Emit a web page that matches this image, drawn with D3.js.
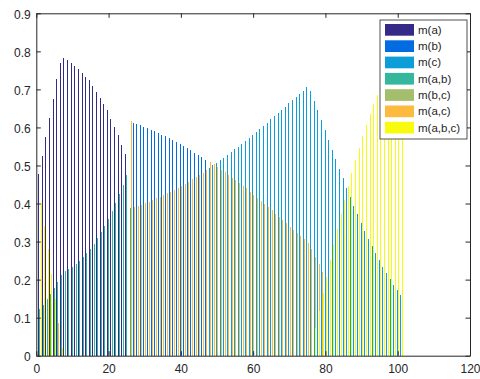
<!DOCTYPE html>
<html>
<head>
<meta charset="utf-8">
<script src="https://cdn.jsdelivr.net/npm/d3@7"></script>
<style>
  body { margin: 0; background: #fff; }
  svg { display: block; font-family: "Liberation Sans", Arial, sans-serif; }
  .tick text { fill: #262626; }
  .tick line, .domain { stroke: #262626; }
</style>
</head>
<body>
<div id="chart"></div>
<script>
// categories (x = 1..101), one group of 7 bars per category
var categories = d3.range(1, 102);
var seriesNames = ["m(a)", "m(b)", "m(c)", "m(a,b)", "m(b,c)", "m(a,c)", "m(a,b,c)"];
var seriesColors = ["#352a87", "#036ce0", "#0d9dd8", "#35b79e", "#a5be6b", "#fcbb3e", "#f9fb0e"];
var xTicks = [0, 20, 40, 60, 80, 100, 120];
var yTicks = [0, 0.1, 0.2, 0.3, 0.4, 0.5, 0.6, 0.7, 0.8, 0.9];

// each series: list of [first x, values...] runs, anything else is 0
var mA = [[1, [0.478, 0.526, 0.576, 0.626, 0.676, 0.726, 0.770, 0.783, 0.776, 0.769, 0.762, 0.754, 0.744,
  0.733, 0.724, 0.710, 0.694, 0.677, 0.661, 0.645, 0.623, 0.602, 0.580, 0.554, 0.531]]];
var mB = [[27, [0.612, 0.609, 0.607, 0.602, 0.599, 0.594, 0.590, 0.586, 0.581, 0.578, 0.573, 0.568, 0.562,
  0.557, 0.552, 0.546, 0.540, 0.533, 0.528, 0.523, 0.515]]];
var mC = [[48, [0.494, 0.502, 0.507, 0.515, 0.520, 0.528, 0.536, 0.544, 0.549, 0.557, 0.565, 0.573, 0.581,
  0.589, 0.597, 0.605, 0.612, 0.623, 0.631, 0.639, 0.647, 0.655, 0.665, 0.673, 0.681, 0.689, 0.697, 0.707,
  0.697, 0.670, 0.647, 0.620, 0.594, 0.568, 0.541, 0.518, 0.491, 0.468, 0.440, 0.418, 0.394, 0.373, 0.348,
  0.328, 0.307, 0.289, 0.270, 0.252, 0.233, 0.218, 0.202, 0.186, 0.173, 0.160]]];
var mAB = [[1, [0.122, 0.133, 0.149, 0.161, 0.178, 0.194, 0.211, 0.223, 0.227, 0.233, 0.241, 0.249, 0.259,
  0.269, 0.281, 0.294, 0.309, 0.324, 0.340, 0.360, 0.380, 0.401, 0.425, 0.449, 0.475, 0.388]]];
var mBC = [];
var mAC = [[6, [0.085]],
  [26, [0.618, 0.391, 0.393, 0.396, 0.401, 0.404, 0.410, 0.415, 0.418, 0.423, 0.428, 0.431, 0.436, 0.441,
  0.447, 0.452, 0.457, 0.465, 0.470, 0.476, 0.481, 0.489, 0.510, 0.504, 0.497, 0.489, 0.483, 0.476, 0.468,
  0.462, 0.454, 0.447, 0.440, 0.430, 0.422, 0.415, 0.407, 0.399, 0.391, 0.383, 0.373, 0.365, 0.357, 0.349,
  0.339, 0.331, 0.323, 0.315, 0.307, 0.296, 0.281, 0.260, 0.241, 0.220, 0.202]],
  [83, [0.154]], [85, [0.128]], [88, [0.094]], [90, [0.075, 0.068]], [93, [0.054]],
  [96, [0.039]], [98, [0.027]], [101, [0.019]]];
var mABC = [[1, [0.401, 0.342, 0.281, 0.215, 0.148]], [7, [0.019]],
  [77, [0.073, 0.118, 0.164, 0.208, 0.252, 0.294, 0.333, 0.373, 0.410, 0.446, 0.481, 0.515, 0.547, 0.578,
  0.607, 0.636, 0.662, 0.686, 0.708, 0.728, 0.745, 0.760, 0.772, 0.782, 0.790]]];

var series = [mA, mB, mC, mAB, mBC, mAC, mABC];

var width = 480, height = 379,
    margin = {top: 13.3, right: 10, bottom: 23.3, left: 36.3};

var svg = d3.select("#chart").append("svg")
    .attr("width", width)
    .attr("height", height);

var x = d3.scaleLinear().domain([0, 120]).range([margin.left, width - margin.right]);
var y = d3.scaleLinear().domain([0, 0.9]).range([height - margin.bottom, margin.top]);

// matlab grouped bar layout
var nS = series.length,
    groupWidth = 0.8,
    step = groupWidth / nS;

var bars = [];
series.forEach(function(runs, s) {
  runs.forEach(function(run) {
    run[1].forEach(function(v, i) {
      var k = run[0] + i;
      if (categories.indexOf(k) >= 0 && v > 0) bars.push({s: s, k: k, v: v});
    });
  });
});

svg.append("g")
  .selectAll("rect")
  .data(bars)
  .enter().append("rect")
    .attr("x", function(d) { return x(d.k + (d.s - (nS - 1) / 2) * step) - 0.5; })
    .attr("width", function(d) { return Math.max(1, x(step * 0.8) - x(0)); })
    .attr("y", function(d) { return y(d.v); })
    .attr("height", function(d) { return y(0) - y(d.v); })
    .attr("fill", function(d) { return seriesColors[d.s]; })
    .attr("shape-rendering", "crispEdges");

// axes, ticks inward on all four sides
var tickLen = 4.5;
svg.append("g")
    .attr("transform", "translate(0," + y(0) + ")")
    .call(d3.axisBottom(x).tickValues(xTicks).tickSizeInner(-tickLen).tickSizeOuter(0).tickPadding(9))
    .attr("font-size", 12).attr("font-family", null);
svg.append("g")
    .attr("transform", "translate(0," + y(0.9) + ")")
    .call(d3.axisTop(x).tickValues(xTicks).tickSizeInner(-tickLen).tickSizeOuter(0).tickFormat(""));
var yl = svg.append("g")
    .attr("transform", "translate(" + x(0) + ",0)")
    .call(d3.axisLeft(y).tickValues(yTicks).tickSizeInner(-tickLen).tickSizeOuter(0).tickPadding(5.5)
      .tickFormat(function(d) { return d === 0 ? "0" : d3.format(".1f")(d); }))
    .attr("font-size", 12).attr("font-family", null);
yl.selectAll("text").attr("dy", "0.42em");
svg.append("g")
    .attr("transform", "translate(" + x(120) + ",0)")
    .call(d3.axisRight(y).tickValues(yTicks).tickSizeInner(-tickLen).tickSizeOuter(0).tickFormat(""));

svg.selectAll(".domain").attr("stroke-width", 1);

// legend
var lg = svg.append("g").attr("transform", "translate(380,20)");
lg.append("rect")
    .attr("width", 87).attr("height", 119)
    .attr("fill", "#fff").attr("stroke", "#262626").attr("stroke-width", 0.8);
var item = lg.selectAll("g.item")
  .data(seriesNames)
  .enter().append("g")
    .attr("class", "item")
    .attr("transform", function(d, i) { return "translate(5," + (4 + i * 16.3) + ")"; });
item.append("rect")
    .attr("width", 29).attr("height", 11.7)
    .attr("fill", function(d, i) { return seriesColors[i]; });
item.append("text")
    .attr("x", 33).attr("y", 5.85).attr("dy", "0.35em")
    .attr("font-size", 11.5).attr("fill", "#262626")
    .text(function(d) { return d; });
</script>
</body>
</html>
